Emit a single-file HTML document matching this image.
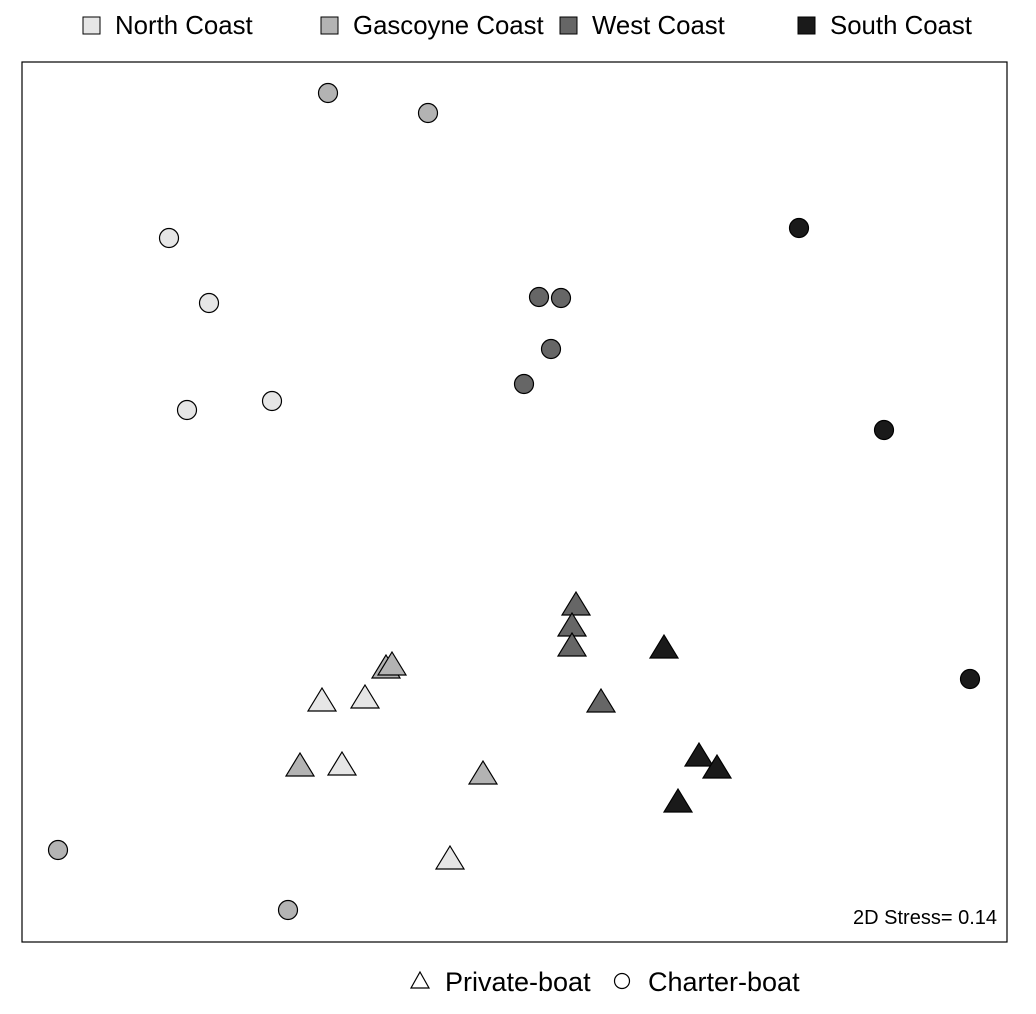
<!DOCTYPE html>
<html><head><style>body{margin:0;background:#fff}svg{display:block}</style></head><body>
<svg width="1036" height="1014" xmlns="http://www.w3.org/2000/svg" font-family="Liberation Sans, sans-serif">
<rect x="22" y="62" width="985" height="880" fill="none" stroke="#000" stroke-width="1.2"/>
<g stroke="#000" stroke-width="1">
<rect x="83" y="17" width="17" height="17" fill="#e6e6e6"/>
<rect x="321" y="17" width="17" height="17" fill="#b3b3b3"/>
<rect x="560" y="17" width="17" height="17" fill="#666"/>
<rect x="798" y="17" width="17" height="17" fill="#1a1a1a"/>
</g>
<g font-size="25.8" fill="#000">
<text x="115" y="34">North Coast</text>
<text x="353" y="34">Gascoyne Coast</text>
<text x="592" y="34">West Coast</text>
<text x="830" y="34">South Coast</text>
<text x="445" y="991" font-size="27">Private-boat</text>
<text x="648" y="991" font-size="27">Charter-boat</text>
<text x="997" y="924" font-size="20" text-anchor="end">2D Stress= 0.14</text>
</g>
<path d="M420,972 L429,988 L411,988 Z" fill="#fff" stroke="#000" stroke-width="1.2"/>
<circle cx="622" cy="981" r="7.5" fill="#fff" stroke="#000" stroke-width="1.2"/>
<g stroke="#000" stroke-width="1.2">
<g fill="#666"><path d="M576,592l14,23h-28z"/><path d="M572,613l14,23h-28z"/><path d="M572,633l14,23h-28z"/><path d="M601,689l14,23h-28z"/></g>
<g fill="#1a1a1a"><path d="M664,635l14,23h-28z"/><path d="M699,743l14,23h-28z"/><path d="M717,755l14,23h-28z"/><path d="M678,789l14,23h-28z"/></g>
<g fill="#b3b3b3"><path d="M386,655l14,23h-28z"/><path d="M392,652l14,23h-28z"/><path d="M300,753l14,23h-28z"/><path d="M483,761l14,23h-28z"/></g>
<g fill="#e6e6e6"><path d="M322,688l14,23h-28z"/><path d="M365,685l14,23h-28z"/><path d="M342,752l14,23h-28z"/><path d="M450,846l14,23h-28z"/></g>
<g fill="#b3b3b3"><circle cx="328" cy="93" r="9.5"/><circle cx="428" cy="113" r="9.5"/><circle cx="58" cy="850" r="9.5"/><circle cx="288" cy="910" r="9.5"/></g>
<g fill="#e6e6e6"><circle cx="169" cy="238" r="9.5"/><circle cx="209" cy="303" r="9.5"/><circle cx="187" cy="410" r="9.5"/><circle cx="272" cy="401" r="9.5"/></g>
<g fill="#666"><circle cx="539" cy="297" r="9.5"/><circle cx="561" cy="298" r="9.5"/><circle cx="551" cy="349" r="9.5"/><circle cx="524" cy="384" r="9.5"/></g>
<g fill="#1a1a1a"><circle cx="799" cy="228" r="9.5"/><circle cx="884" cy="430" r="9.5"/><circle cx="970" cy="679" r="9.5"/></g>
</g>
</svg>
</body></html>
